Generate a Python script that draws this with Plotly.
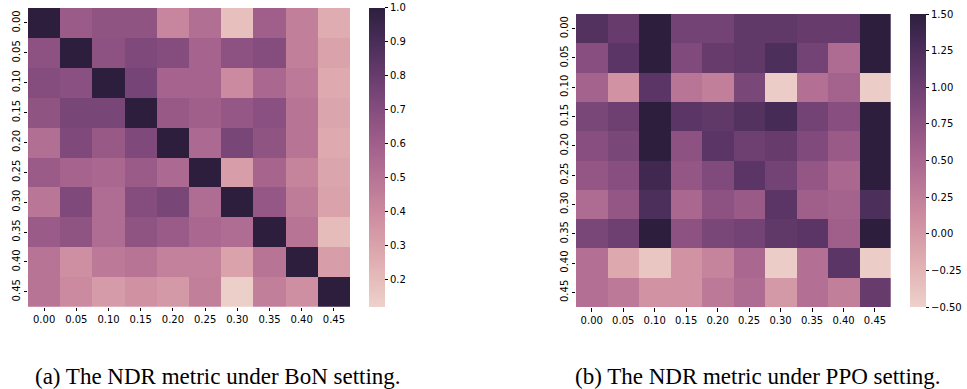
import numpy as np
import plotly.graph_objects as go

labels = ["0.00", "0.05", "0.10", "0.15", "0.20", "0.25", "0.30", "0.35", "0.40", "0.45"]

bon_values = [
    [1.00, 0.62, 0.66, 0.66, 0.42, 0.52, 0.19, 0.60, 0.45, 0.26],
    [0.67, 1.00, 0.67, 0.72, 0.70, 0.58, 0.67, 0.70, 0.45, 0.30],
    [0.70, 0.68, 1.00, 0.75, 0.58, 0.58, 0.40, 0.56, 0.47, 0.27],
    [0.66, 0.74, 0.74, 1.00, 0.63, 0.60, 0.64, 0.68, 0.50, 0.29],
    [0.52, 0.72, 0.63, 0.72, 1.00, 0.55, 0.74, 0.66, 0.50, 0.27],
    [0.62, 0.58, 0.56, 0.62, 0.55, 1.00, 0.32, 0.57, 0.43, 0.29],
    [0.49, 0.72, 0.53, 0.70, 0.74, 0.53, 1.00, 0.64, 0.46, 0.30],
    [0.62, 0.66, 0.53, 0.66, 0.62, 0.56, 0.53, 1.00, 0.50, 0.20],
    [0.50, 0.38, 0.47, 0.50, 0.44, 0.44, 0.30, 0.50, 1.00, 0.32],
    [0.50, 0.40, 0.33, 0.37, 0.34, 0.45, 0.13, 0.45, 0.38, 1.00],
]

ppo_values = [
    [1.20, 1.05, 1.50, 0.95, 0.95, 1.10, 1.10, 1.05, 1.05, 1.50],
    [0.80, 1.15, 1.50, 0.85, 1.05, 1.10, 1.25, 0.95, 0.45, 1.50],
    [0.55, 0.05, 1.15, 0.35, 0.25, 0.90, -0.45, 0.40, 0.55, -0.45],
    [0.90, 1.00, 1.50, 1.15, 1.10, 1.20, 1.30, 0.95, 0.80, 1.50],
    [0.80, 0.90, 1.50, 0.75, 1.15, 1.00, 1.05, 0.85, 0.65, 1.50],
    [0.70, 0.80, 1.35, 0.70, 0.85, 1.15, 0.95, 0.70, 0.50, 1.50],
    [0.45, 0.70, 1.25, 0.50, 0.75, 0.65, 1.15, 0.60, 0.55, 1.25],
    [0.90, 1.00, 1.50, 0.75, 0.90, 0.95, 1.10, 1.15, 0.60, 1.50],
    [0.40, -0.15, -0.40, 0.05, 0.20, 0.50, -0.45, 0.40, 1.15, -0.45],
    [0.40, 0.30, 0.05, 0.05, 0.30, 0.45, 0.00, 0.40, 0.25, 1.05],
]

bon_ticks = [0.2, 0.3, 0.4, 0.5, 0.6, 0.7, 0.8, 0.9, 1.0]
bon_ticktext = ["0.2", "0.3", "0.4", "0.5", "0.6", "0.7", "0.8", "0.9", "1.0"]
ppo_ticks = [-0.5, -0.25, 0.0, 0.25, 0.5, 0.75, 1.0, 1.25, 1.5]
ppo_ticktext = ["\u22120.50", "\u22120.25", "0.00", "0.25", "0.50", "0.75", "1.00", "1.25", "1.50"]

captions = ["(a) The NDR metric under BoN setting.", "(b) The NDR metric under PPO setting."]


# seaborn default cubehelix_palette (as_cmap) colours
def cubehelix_scale(n=32, start=0.0, rot=0.4, gamma=1.0, hue=0.8, light=0.85, dark=0.15):
    def comp(x, p0, p1):
        xg = x ** gamma
        a = hue * xg * (1 - xg) / 2
        phi = 2 * np.pi * (start / 3 + rot * x)
        return np.clip(xg + a * (p0 * np.cos(phi) + p1 * np.sin(phi)), 0, 1)
    scale = []
    for t in np.linspace(0, 1, n):
        x = light + (dark - light) * t
        r = comp(x, -0.14861, 1.78277)
        g = comp(x, -0.29227, -0.90649)
        b = comp(x, 1.97294, 0.0)
        scale.append([float(t), "rgb(%d,%d,%d)" % (round(r * 255), round(g * 255), round(b * 255))])
    return scale


cs = cubehelix_scale()
W, H = 967, 389
tick_font = dict(family="DejaVu Sans", size=10, color="#000")

fig = go.Figure()

fig.add_trace(go.Heatmap(
    z=bon_values, x=labels, y=labels, colorscale=cs, zmin=0.12, zmax=1.0,
    xaxis="x", yaxis="y", xgap=0, ygap=0,
    colorbar=dict(x=369 / W, xanchor="left", y=1 - (8 + 298.5 / 2) / H, yanchor="middle",
                  len=298.5, lenmode="pixels", thickness=16, outlinewidth=0,
                  tickvals=bon_ticks, ticktext=bon_ticktext, ticks="outside", ticklen=3.5,
                  tickwidth=0.8, tickcolor="#000", tickfont=tick_font, xpad=0, ypad=0),
))
fig.add_trace(go.Heatmap(
    z=ppo_values, x=labels, y=labels, colorscale=cs, zmin=-0.5, zmax=1.5,
    xaxis="x2", yaxis="y2",
    colorbar=dict(x=910 / W, xanchor="left", y=1 - (14 + 293 / 2) / H, yanchor="middle",
                  len=293, lenmode="pixels", thickness=15.5, outlinewidth=0,
                  tickvals=ppo_ticks, ticktext=ppo_ticktext, ticks="outside", ticklen=3.5,
                  tickwidth=0.8, tickcolor="#000", tickfont=tick_font, xpad=0, ypad=0),
))

axis_common = dict(showgrid=False, zeroline=False, showline=False, ticks="outside",
                   ticklen=3.5, tickwidth=0.8, tickcolor="#000", tickfont=tick_font)

fig.update_layout(
    width=W, height=H, margin=dict(l=0, r=0, t=0, b=0),
    paper_bgcolor="white", plot_bgcolor="white",
    xaxis=dict(domain=[28 / W, 350 / W], anchor="y", tickangle=0, **axis_common),
    yaxis=dict(domain=[1 - 306.7 / H, 1 - 8 / H], anchor="x", autorange="reversed",
               tickangle=-90, **axis_common),
    xaxis2=dict(domain=[576 / W, 890.7 / W], anchor="y2", tickangle=0, **axis_common),
    yaxis2=dict(domain=[1 - 307 / H, 1 - 14 / H], anchor="x2", autorange="reversed",
                tickangle=-90, **axis_common),
    showlegend=False,
)

for cx, text in zip([218, 758], captions):
    fig.add_annotation(text=text, xref="paper", yref="paper", x=cx / W, y=1 - 376.5 / H,
                       xanchor="center", yanchor="middle", showarrow=False,
                       font=dict(family="Liberation Serif", size=23, color="#000"))

fig.write_html("out.html")
